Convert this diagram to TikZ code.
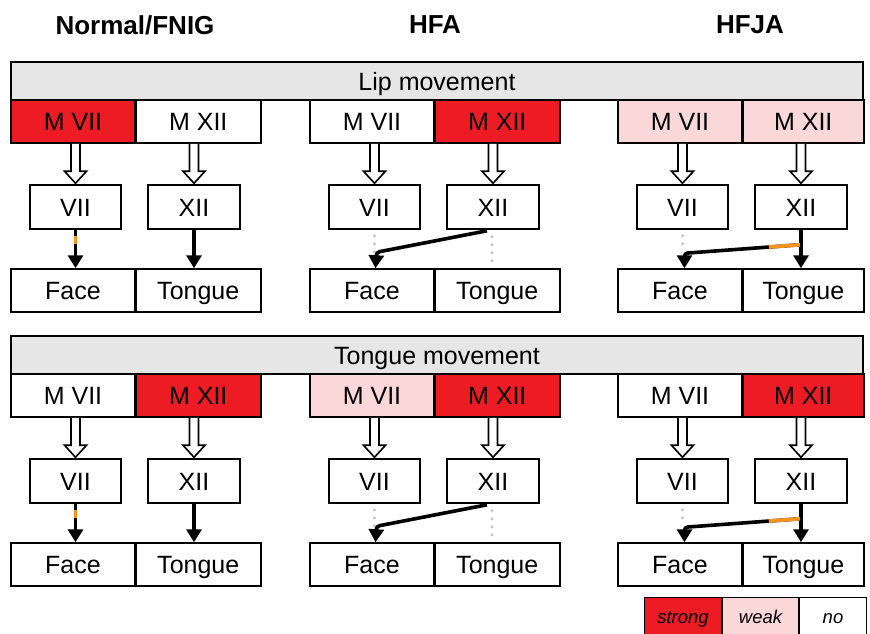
\documentclass[tikz,border=0pt]{standalone}
\usepackage{fontspec}
\setmainfont{Liberation Sans}
\usetikzlibrary{arrows.meta,calc}
\definecolor{strongred}{HTML}{ED1C24}
\definecolor{weakpink}{HTML}{FAD7D8}
\definecolor{hdrgray}{HTML}{E6E6E6}
\definecolor{orng}{HTML}{F7941D}
\definecolor{dotgray}{HTML}{C8C8C8}
\tikzset{
 box/.style={draw=black, line width=1.5pt, rectangle, inner sep=0pt, text height=18pt, text depth=0pt, font=\fontsize{25}{29}\selectfont},
 hollow/.style={draw=black, fill=white, line width=1.6pt, line join=miter},
 sig/.style={draw=black, line width=3.6pt, -{Triangle[length=13pt,width=15pt]}},
 part/.style={line width=3.6pt, draw=orng},
 nosig/.style={draw=dotgray, line width=3.5pt, line cap=round, dash pattern=on 0pt off 8pt},
 title/.style={font=\bfseries\fontsize{26}{30}\selectfont},
 legend/.style={draw=black, line width=1pt, inner sep=0pt, minimum height=39pt, text height=13pt, text depth=0pt, font=\itshape\fontsize{18.5}{22}\selectfont},
}
\newcommand\hollowarrow[2]{%
 \draw[hollow] let \p1=(#1.south), \p2=(#2.north) in
   (\x2-4.5pt,\y1) -- (\x2-4.5pt,\y2+13pt) -- (\x2-11pt,\y2+13pt) -- (\x2,\y2+1pt)
   -- (\x2+11pt,\y2+13pt) -- (\x2+4.5pt,\y2+13pt) -- (\x2+4.5pt,\y1);
}
% #1 prefix, #2 xoff, #3 yoff, #4 fill left, #5 fill right, #6 width right
\newcommand\grp[6]{%
 \node[box, fill=#4, minimum width=124pt, minimum height=43pt] (#1mL) at ({#2+73},{#3+121.5}) {M VII};
 \node[box, fill=#5, minimum width=#6pt, minimum height=43pt, anchor=west] (#1mR) at ({#2+135},{#3+121.5}) {M XII};
 \node[box, fill=white, minimum width=91pt, minimum height=44pt] (#1V) at ({#2+75.5},{#3+207}) {VII};
 \node[box, fill=white, minimum width=92pt, minimum height=44pt] (#1X) at ({#2+194},{#3+207}) {XII};
 \node[box, fill=white, minimum width=124pt, minimum height=43pt] (#1F) at ({#2+73},{#3+290.5}) {Face};
 \node[box, fill=white, minimum width=#6pt, minimum height=43pt, anchor=west] (#1T) at ({#2+135},{#3+290.5}) {Tongue};
 \hollowarrow{#1mL}{#1V}
 \hollowarrow{#1mR}{#1X}
}
\begin{document}
\begin{tikzpicture}[x=1pt,y=-1pt]
\useasboundingbox (0,0) rectangle (870,633);
% titles
\node[title] (t1) at (135,25) {Normal/FNIG};
\node[title] (t2) at (435,25) {HFA};
\node[title] (t3) at (750,25) {HFJA};
% headers
\node[box, fill=hdrgray, minimum width=852pt, minimum height=38pt] (lip) at (437,81) {Lip movement};
\node[box, fill=hdrgray, minimum width=852pt, minimum height=38pt] (tng) at (437,355) {Tongue movement};
% ---- Lip movement ----
\grp{a}{0}{0}{strongred}{white}{125}
\grp{b}{299}{0}{white}{strongred}{125}
\grp{c}{607}{0}{weakpink}{weakpink}{121}
% ---- Tongue movement ----
\grp{d}{0}{274}{white}{strongred}{125}
\grp{e}{299}{274}{weakpink}{strongred}{125}
\grp{f}{607}{274}{white}{strongred}{121}
% ===== connectors: Normal (a, d) =====
\foreach \p in {a,d}{
 \draw[sig] (\p V.south) -- (\p V.south |- \p F.north);
 \draw[part] ($(\p V.south)+(0,6)$) -- ++(0,8);
 \draw[sig] (\p X.south) -- (\p X.south |- \p T.north);
}
% ===== HFA (b, e) =====
\foreach \p in {b,e}{
 \draw[nosig] ($(\p V.south)+(0,6)$) -- ++(0,18);
 \draw[nosig] ($(\p X.south)+(-1,7)$) -- ($(\p X.south |- \p T.north)+(-1,-4)$);
 \draw[sig, rounded corners=3pt] ($(\p X.south)+(-6,1)$) -- ($(\p V.south |- \p F.north)+(2,-16)$) -- ($(\p V.south |- \p F.north)+(1,0)$);
}
% ===== HFJA (c, f) =====
\foreach \p in {c,f}{
 \draw[nosig] ($(\p V.south)+(0,6)$) -- ++(0,14);
 \draw[sig] (\p X.south) -- (\p X.south |- \p T.north);
 \coordinate (\p B) at ($(\p X.south)+(-1,15)$);
 \coordinate (\p K) at ($(\p V.south |- \p F.north)+(2,-15)$);
 \draw[sig, rounded corners=3pt] (\p B) -- (\p K) -- ($(\p V.south |- \p F.north)+(2,0)$);
 \draw[part] (\p B) -- ($(\p B)!0.27!(\p K)$);
}
% legend
\node[legend, fill=strongred, minimum width=77pt, anchor=north west] (ls) at (644,597) {strong};
\node[legend, fill=weakpink, minimum width=76pt, anchor=north west] (lw) at (ls.north east) {weak};
\node[legend, fill=white, minimum width=67pt, anchor=north west] (ln) at (lw.north east) {no};
\end{tikzpicture}
\end{document}
